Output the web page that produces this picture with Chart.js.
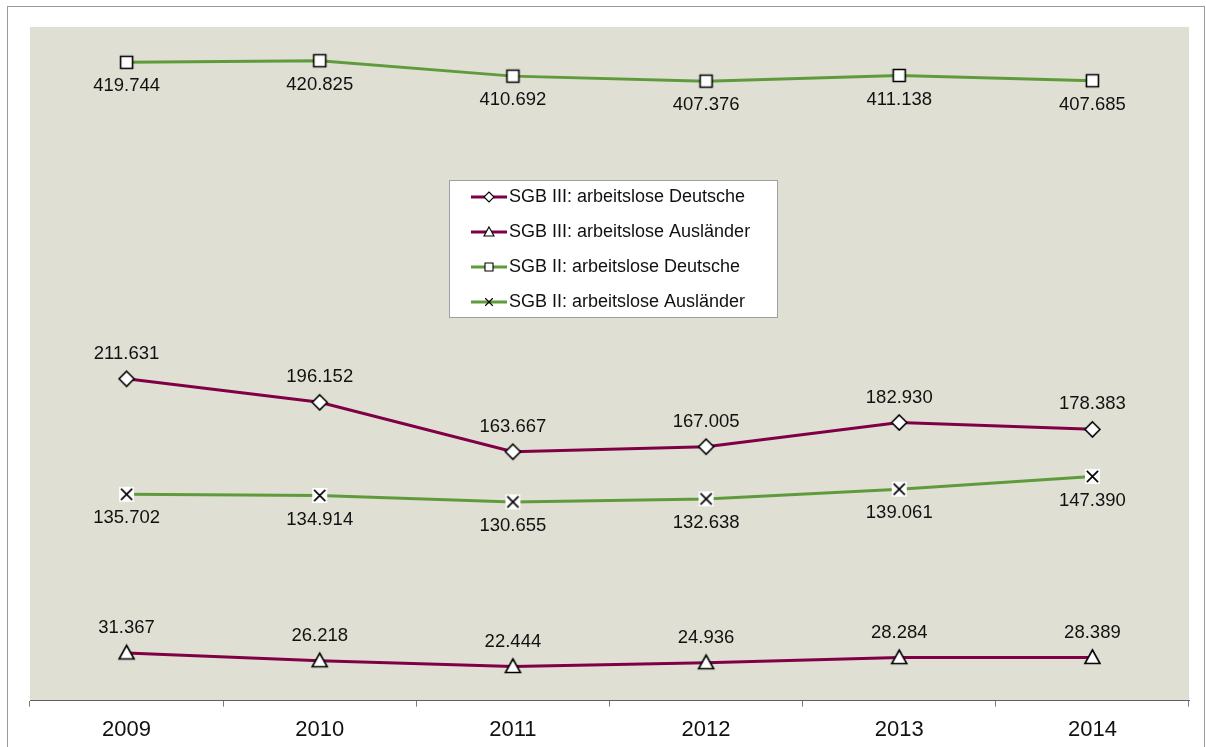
<!DOCTYPE html>
<html>
<head>
<meta charset="utf-8">
<script src="https://cdn.jsdelivr.net/npm/chart.js@4.4.1/dist/chart.umd.min.js"></script>
<style>
	html, body { margin: 0; padding: 0; background: #fff; }
	#chart { display: block; }
</style>
</head>
<body>
<canvas id="chart" width="1206" height="747"></canvas>
<script>
const years = ["2009", "2010", "2011", "2012", "2013", "2014"];
const sgb3Deutsche = [211631, 196152, 163667, 167005, 182930, 178383];
const sgb3Auslaender = [31367, 26218, 22444, 24936, 28284, 28389];
const sgb2Deutsche = [419744, 420825, 410692, 407376, 411138, 407685];
const sgb2Auslaender = [135702, 134914, 130655, 132638, 139061, 147390];

const FONT = "'Liberation Sans', Arial, sans-serif";
const MAROON = "#800046";
const GREEN = "#5f9b3d";
const PLOT_BG = "#dfe0d3";

// draws a marker shape into its own small canvas so it can be used as pointStyle
function makeMarker(kind, size) {
	const pad = 3;
	const c = document.createElement("canvas");
	c.width = c.height = size + pad * 2;
	const ctx = c.getContext("2d");
	const m = c.width / 2;
	const h = size / 2;
	ctx.lineWidth = size > 10 ? 1.6 : 1.1;
	ctx.strokeStyle = "#000";
	ctx.fillStyle = "#fff";
	ctx.beginPath();
	if (kind === "diamond") {
		ctx.moveTo(m, m - h);
		ctx.lineTo(m + h, m);
		ctx.lineTo(m, m + h);
		ctx.lineTo(m - h, m);
		ctx.closePath();
		ctx.fill();
		ctx.stroke();
	} else if (kind === "triangle") {
		ctx.moveTo(m, m - h);
		ctx.lineTo(m + h, m + h * 0.8);
		ctx.lineTo(m - h, m + h * 0.8);
		ctx.closePath();
		ctx.fill();
		ctx.stroke();
	} else if (kind === "square") {
		const s = h * 0.8;
		ctx.rect(m - s, m - s, s * 2, s * 2);
		ctx.fill();
		ctx.stroke();
	} else if (kind === "cross") {
		if (size > 10) ctx.fillRect(m - h, m - h, size, size);
		const s = h * 0.75;
		ctx.moveTo(m - s, m - s);
		ctx.lineTo(m + s, m + s);
		ctx.moveTo(m + s, m - s);
		ctx.lineTo(m - s, m + s);
		ctx.stroke();
	}
	return c;
}

const series = [
	{ label: "SGB III: arbeitslose Deutsche", data: sgb3Deutsche, color: MAROON, marker: "diamond", labelPos: "above" },
	{ label: "SGB III: arbeitslose Ausländer", data: sgb3Auslaender, color: MAROON, marker: "triangle", labelPos: "above" },
	{ label: "SGB II: arbeitslose Deutsche", data: sgb2Deutsche, color: GREEN, marker: "square", labelPos: "below" },
	{ label: "SGB II: arbeitslose Ausländer", data: sgb2Auslaender, color: GREEN, marker: "cross", labelPos: "below" },
];

series.forEach((s) => {
	s.bigMarker = makeMarker(s.marker, 15);
	s.smallMarker = makeMarker(s.marker, 10);
});

function formatDe(v) {
	return v.toString().replace(/\B(?=(\d{3})+(?!\d))/g, ".");
}

const frameAndBackground = {
	id: "frameAndBackground",
	beforeDraw(chart) {
		const { ctx, chartArea } = chart;
		ctx.save();
		ctx.fillStyle = "#fff";
		ctx.fillRect(0, 0, chart.width, chart.height);
		ctx.strokeStyle = "#9a9a9a";
		ctx.lineWidth = 1;
		ctx.strokeRect(7.5, 6.5, 1197, 800);
		ctx.fillStyle = PLOT_BG;
		ctx.fillRect(chartArea.left, chartArea.top, chartArea.right - chartArea.left, chartArea.bottom - chartArea.top);
		ctx.restore();
	},
};

const valueLabels = {
	id: "valueLabels",
	afterDatasetsDraw(chart) {
		const { ctx } = chart;
		ctx.save();
		ctx.font = "18.5px " + FONT;
		ctx.fillStyle = "#111";
		ctx.textAlign = "center";
		ctx.textBaseline = "middle";
		chart.data.datasets.forEach((ds, i) => {
			const meta = chart.getDatasetMeta(i);
			meta.data.forEach((pt, j) => {
				const dy = series[i].labelPos === "above" ? -25 : 24;
				ctx.fillText(formatDe(ds.data[j]), pt.x, pt.y + dy);
			});
		});
		ctx.restore();
	},
};

const boxLegend = {
	id: "boxLegend",
	afterDraw(chart) {
		const { ctx } = chart;
		const box = { x: 449.5, y: 180.5, w: 328, h: 137 };
		ctx.save();
		ctx.fillStyle = "#fff";
		ctx.fillRect(box.x, box.y, box.w, box.h);
		ctx.strokeStyle = "#a0a0a0";
		ctx.lineWidth = 1;
		ctx.strokeRect(box.x, box.y, box.w, box.h);
		ctx.font = "18px " + FONT;
		ctx.textBaseline = "middle";
		ctx.fillStyle = "#111";
		const rows = [197, 232, 267, 302];
		series.forEach((s, i) => {
			const y = rows[i];
			ctx.strokeStyle = s.color;
			ctx.lineWidth = 3;
			ctx.beginPath();
			ctx.moveTo(471, y);
			ctx.lineTo(507, y);
			ctx.stroke();
			const mk = s.smallMarker;
			ctx.drawImage(mk, 489 - mk.width / 2, y - mk.height / 2);
			ctx.fillText(s.label, 509, y);
		});
		ctx.restore();
	},
};

new Chart(document.getElementById("chart"), {
	type: "line",
	data: {
		labels: years,
		datasets: series.map((s) => ({
			label: s.label,
			data: s.data,
			borderColor: s.color,
			borderWidth: 3,
			pointStyle: s.bigMarker,
			pointRadius: 8,
			tension: 0,
		})),
	},
	options: {
		responsive: false,
		animation: false,
		devicePixelRatio: 1,
		layout: { padding: { left: 30, right: 17, top: 27, bottom: -6 } },
		plugins: {
			legend: { display: false },
			tooltip: { enabled: false },
		},
		scales: {
			x: {
				offset: true,
				grid: {
					offset: true,
					drawOnChartArea: false,
					tickLength: 6,
					color: "#7a7a7a",
				},
				border: { color: "#606060", width: 1 },
				ticks: {
					font: { family: FONT, size: 22 },
					color: "#111",
					padding: 10,
				},
			},
			y: {
				display: false,
				min: 0,
				max: 443000,
			},
		},
	},
	plugins: [frameAndBackground, valueLabels, boxLegend],
});
</script>
</body>
</html>
